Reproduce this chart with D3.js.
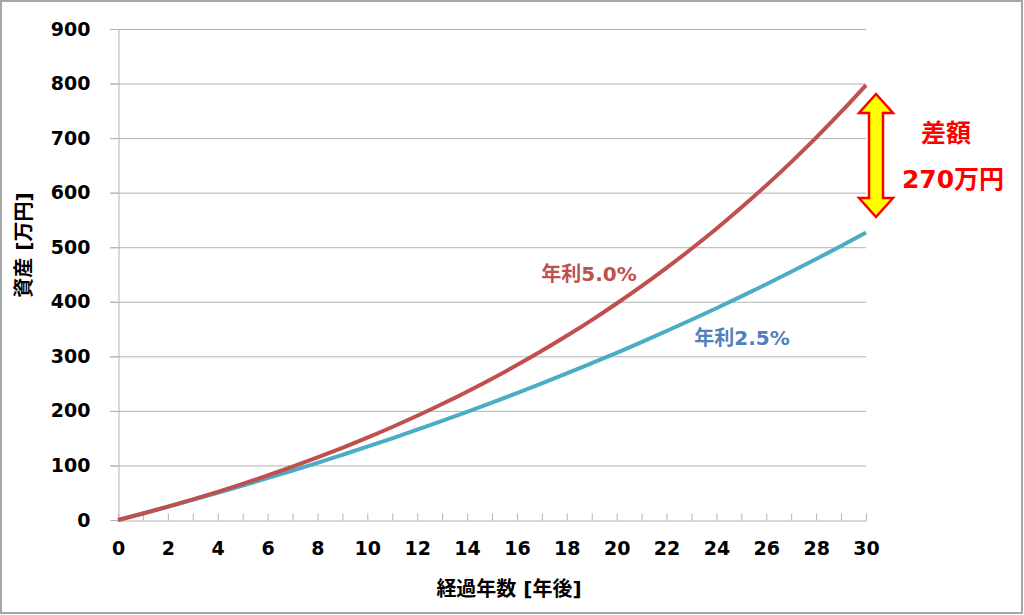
<!DOCTYPE html>
<html><head><meta charset="utf-8">
<script src="https://cdn.jsdelivr.net/npm/d3@7"></script>
<style>
html,body{margin:0;padding:0;background:#fff;}
svg{display:block;}
text{font-family:"DejaVu Sans","Noto Sans CJK JP",sans-serif;font-weight:bold;}
</style></head>
<body>
<svg id="c" width="1024" height="615"></svg>
<script>
const years = d3.range(0, 31);
const rate5 = [0,12,24.6,37.8,51.7,66.3,81.6,97.7,114.6,132.3,150.9,170.5,191.0,212.6,235.2,258.9,283.9,310.1,337.6,366.5,396.8,428.6,462.1,497.2,534.0,572.7,613.4,656.0,700.8,747.9,797.3];
const rate25 = [0,12,24.3,36.9,49.8,63.1,76.7,90.6,104.8,119.5,134.4,149.8,165.6,181.7,198.2,215.2,232.6,250.4,268.6,287.4,306.5,326.2,346.4,367.0,388.2,409.9,432.1,454.9,478.3,502.3,526.8];
const yTicks = [0,100,200,300,400,500,600,700,800,900];
const xTicks = [0,2,4,6,8,10,12,14,16,18,20,22,24,26,28,30];
const seriesLabels = ["年利5.0%","年利2.5%"];
const diffLabel = ["差額","270万円"];
const xTitle = "経過年数 [年後]";
const yTitle = "資産 [万円]";

(function(){
const svg = d3.select("#c");
svg.append("rect").attr("x",1).attr("y",1).attr("width",1021).attr("height",612)
  .attr("fill","#fff").attr("stroke","#a6a6a6").attr("stroke-width",2);

const x = d3.scaleLinear().domain([0,30]).range([118,866]);
const y = d3.scaleLinear().domain([0,900]).range([520,29]);

svg.append("g").selectAll("line").data(yTicks.filter(d=>d>0)).join("line")
  .attr("x1",110).attr("x2",866).attr("y1",d=>y(d)+0.5).attr("y2",d=>y(d)+0.5)
  .attr("stroke","#b3b3b3").attr("stroke-width",1);
const ya = svg.append("g").attr("transform","translate(118.5,0)")
  .call(d3.axisLeft(y).tickValues(yTicks).tickSize(8).tickPadding(20));
ya.select(".domain").attr("stroke","#b3b3b3");
ya.selectAll(".tick line").attr("stroke","#b3b3b3");
ya.selectAll("text").attr("font-size",19).attr("fill","#000");
const xa = svg.append("g").attr("transform","translate(0,520.5)")
  .call(d3.axisBottom(x).tickValues(years).tickSize(-7).tickSizeOuter(0).tickFormat(d=>xTicks.includes(d)?d:""));
xa.select(".domain").attr("stroke","#b3b3b3");
xa.selectAll(".tick line").attr("stroke","#b3b3b3");
xa.selectAll("text").attr("font-size",19).attr("fill","#000").attr("dy","1.65em");

const line = d3.line().x((d,i)=>x(years[i])).y(d=>y(d)).curve(d3.curveMonotoneX);
svg.append("path").datum(rate25).attr("d",line).attr("fill","none")
  .attr("stroke","#4BACC6").attr("stroke-width",4).attr("stroke-linejoin","round");
svg.append("path").datum(rate5).attr("d",line).attr("fill","none")
  .attr("stroke","#C0504D").attr("stroke-width",4).attr("stroke-linejoin","round");

svg.append("text").attr("x",589).attr("y",281).attr("text-anchor","middle")
  .attr("font-size",20).attr("fill","#C0504D").text(seriesLabels[0]);
svg.append("text").attr("x",742).attr("y",345).attr("text-anchor","middle")
  .attr("font-size",20).attr("fill","#4F81BD").text(seriesLabels[1]);

svg.append("text").attr("x",509).attr("y",596).attr("text-anchor","middle")
  .attr("font-size",20).attr("fill","#000").text(xTitle);
svg.append("text").attr("transform","translate(31,245) rotate(-90)").attr("text-anchor","middle")
  .attr("font-size",20).attr("fill","#000").text(yTitle);

const cx = 876, ay0 = 94, ay1 = 217, hw = 17, sw = 7, hh = 19;
const pts = [[cx,ay0],[cx+hw,ay0+hh],[cx+sw,ay0+hh],[cx+sw,ay1-hh],[cx+hw,ay1-hh],[cx,ay1],
  [cx-hw,ay1-hh],[cx-sw,ay1-hh],[cx-sw,ay0+hh],[cx-hw,ay0+hh]];
svg.append("polygon").attr("points",pts.map(p=>p.join(",")).join(" "))
  .attr("fill","#FFFF00").attr("stroke","#FF0000").attr("stroke-width",2.5).attr("stroke-linejoin","miter");

svg.append("text").attr("x",946).attr("y",142).attr("text-anchor","middle")
  .attr("font-size",25).attr("fill","#FF0000").text(diffLabel[0]);
svg.append("text").attr("x",953).attr("y",188).attr("text-anchor","middle")
  .attr("font-size",25).attr("fill","#FF0000").text(diffLabel[1]);
})();
</script>
</body></html>
